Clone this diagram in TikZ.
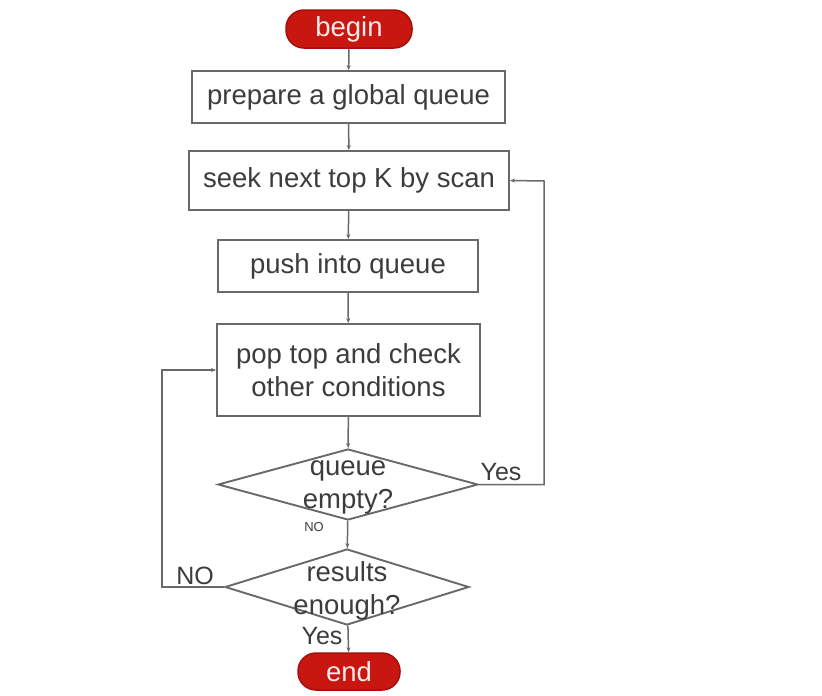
\documentclass[tikz,border=0pt]{standalone}
\usepackage{fontspec}
\setmainfont{Liberation Sans}
\usetikzlibrary{shapes.geometric,arrows.meta}
\definecolor{lineg}{RGB}{105,105,105}
\definecolor{txtg}{RGB}{60,60,60}
\definecolor{pillred}{RGB}{200,22,16}
\definecolor{pillborder}{RGB}{165,15,10}
\begin{document}
\begin{tikzpicture}[x=1pt,y=-1pt,
  every node/.style={font=\fontsize{27.5}{33}\selectfont, text=txtg},
  procbox/.style={draw=lineg, line width=1.9pt, inner sep=0pt, align=center},
  pill/.style={draw=pillborder, line width=1.5pt, fill=pillred, rounded corners=18pt, inner sep=0pt, text=white!92!red},
  decision/.style={diamond, draw=lineg, line width=1.9pt, inner sep=0pt},
  conn/.style={draw=lineg, line width=1.5pt, -{Stealth[length=5pt,width=4pt]}},
  lbl/.style={inner sep=0pt}]
\useasboundingbox (0,0) rectangle (822,696);
\node[pill, minimum width=126pt, minimum height=38pt] (begin) at (349,29) {begin};
\node[procbox, minimum width=313pt, minimum height=52pt] (prep) at (348.5,97) {prepare a global queue};
\node[procbox, minimum width=320pt, minimum height=59pt] (seek) at (349,180.5) {seek next top K by scan};
\node[procbox, minimum width=260pt, minimum height=52pt] (push) at (348,266) {push into queue};
\node[procbox, minimum width=263pt, minimum height=92pt] (pop) at (348.5,370) {pop top and check\\other conditions};
\node[decision, minimum width=260pt, minimum height=71pt] (d1) at (348,484.5) {};
\node[lbl, align=center] (d1t) at (348,487) {queue\\empty?};
\node[decision, minimum width=244pt, minimum height=76pt] (d2) at (347,587) {};
\node[lbl, align=center] (d2t) at (347,591) {results\\enough?};
\node[pill, minimum width=102pt, minimum height=37pt] (end) at (349,671.5) {end};
\coordinate (rtop) at (544,181);
\coordinate (rbot) at (544,484.5);
\coordinate (ltop) at (162,370);
\coordinate (lbot) at (162,587);
\draw[conn] (begin) -- (prep);
\draw[conn] (prep) -- (seek);
\draw[conn] (seek) -- (push);
\draw[conn] (push) -- (pop);
\draw[conn] (pop) -- (d1);
\draw[conn] (d1) -- (d2);
\draw[conn] (d2) -- (end);
\draw[conn] (d1.east) -- (rbot) -- (rtop) -- (seek.east);
\draw[conn] (d2.west) -- (lbot) -- (ltop) -- (pop.west);
\node[lbl, font=\fontsize{25}{28}\selectfont] (yes1) at (501,472) {Yes};
\node[lbl, font=\fontsize{25}{28}\selectfont] (no2) at (195,576) {NO};
\node[lbl, font=\fontsize{13}{15}\selectfont] (no1) at (314,527) {NO};
\node[lbl, font=\fontsize{25}{28}\selectfont] (yes2) at (322,636) {Yes};
\end{tikzpicture}
\end{document}
